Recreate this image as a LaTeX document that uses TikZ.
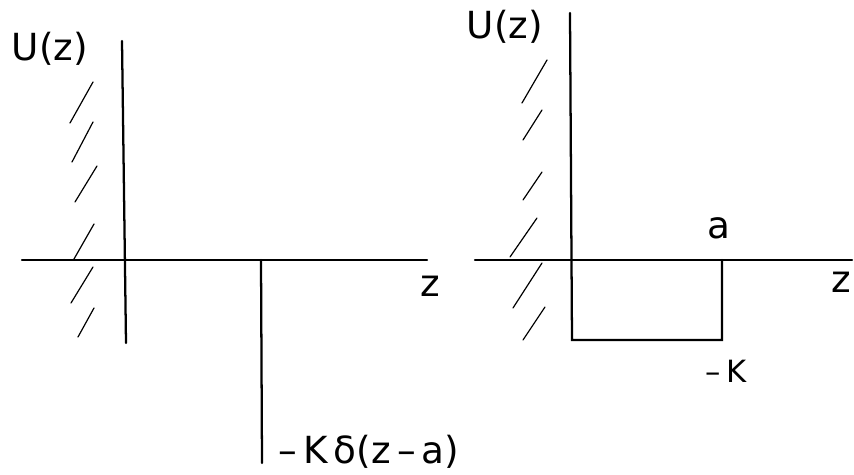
\documentclass[tikz,border=0pt]{standalone}
\usepackage{fontspec}
\setmainfont{DejaVu Sans}
\begin{document}
\begin{tikzpicture}[x=0.75pt,y=-0.75pt,
  axis/.style={line width=1.7pt, line cap=round},
  hatch/.style={line width=0.9pt, line cap=round},
  lbl/.style={inner sep=0pt, font=\fontsize{28}{28}\selectfont},
  slbl/.style={inner sep=0pt, font=\fontsize{23}{23}\selectfont}]
\useasboundingbox (0,0) rectangle (854,475);
% ---------- left panel ----------
\coordinate (LVt) at (122,41);  \coordinate (LVb) at (126,343);
\coordinate (LHl) at (22,260);  \coordinate (LHr) at (427,260);
\coordinate (Sp) at (261,260);  \coordinate (Sb) at (262,463);
\draw[axis] (LVt) -- (LVb);
\draw[axis] (LHl) -- (LHr);
\draw[axis] (Sp) -- (Sb);
\foreach \a/\b/\c/\d in {70/123/93/82, 72/162/93/122, 75/202/97/166,
                         74/259/94/224, 71/303/93/267, 78/337/94/308}
  \draw[hatch] (\a,\b) -- (\c,\d);
\node[lbl] (LU) at (50,49) {U(z)};
\node[lbl] (Lz) at (430,286) {z};
\node[lbl, anchor=base west] (Ld) at (278,463) {–\,K\,δ(z\,–\,a)};
% ---------- right panel ----------
\coordinate (RVt) at (570,13);  \coordinate (RVb) at (572,340);
\coordinate (RHl) at (475,260); \coordinate (RHr) at (852,260);
\coordinate (Ra) at (722,260);  \coordinate (Rab) at (722,340);
\draw[axis] (RVt) -- (RVb) -- (Rab) -- (Ra);
\draw[axis] (RHl) -- (RHr);
\foreach \a/\b/\c/\d in {522/103/547/60, 523/140/542/110, 523/200/542/172,
                         510/257/537/218, 513/308/542/263, 523/340/545/307}
  \draw[hatch] (\a,\b) -- (\c,\d);
\node[lbl] (RU) at (505,27) {U(z)};
\node[lbl] (Ral) at (719,228) {a};
\node[lbl] (Rz) at (841,282) {z};
\node[slbl] (RK) at (726,371) {–\,K};
\end{tikzpicture}
\end{document}
